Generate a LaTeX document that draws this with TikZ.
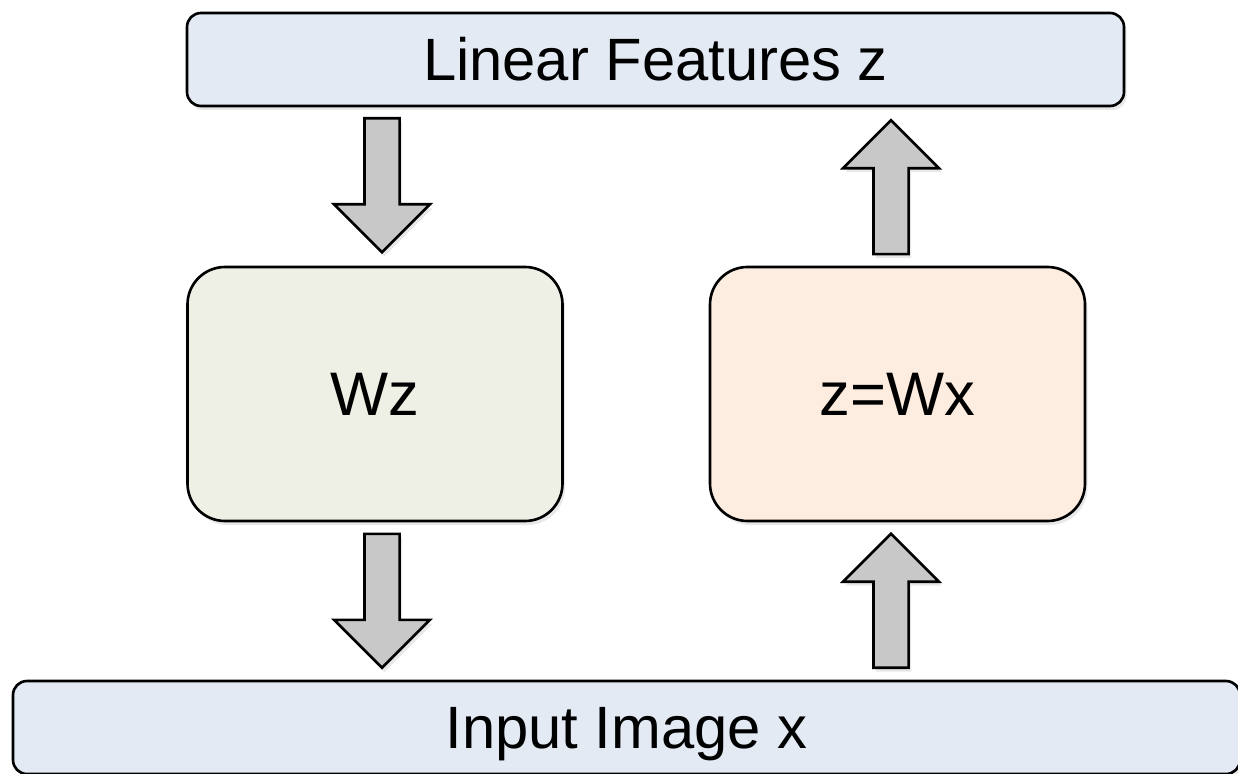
\documentclass[tikz,border=0pt]{standalone}
\usepackage{fontspec}
\setmainfont{Liberation Sans}
\usetikzlibrary{positioning,calc,shapes.arrows,shadows}
\definecolor{FeatBlue}{HTML}{E3EAF4}
\definecolor{DecOlive}{HTML}{EFF0E5}
\definecolor{EncPeach}{HTML}{FDEDE0}
\definecolor{ArrowGray}{HTML}{C8C8C8}

\begin{document}
\begin{tikzpicture}[every node/.style={align=center},
  softshadow/.style={drop shadow={opacity=0.18, shadow xshift=0.05cm, shadow yshift=-0.08cm}},
  layerbox/.style={draw=black, line width=1.5pt, rounded corners=0.28cm, fill=FeatBlue, minimum height=1.86cm, font=\fontsize{34}{40}\selectfont, text height=0.9cm, text depth=0.05cm, softshadow},
  mapbox/.style={draw=black, line width=1.5pt, rounded corners=0.75cm, minimum width=7.5cm, minimum height=5.08cm, font=\fontsize{35}{42}\selectfont, text height=0.92cm, text depth=0.05cm, softshadow},
  blockarrow/.style={single arrow, draw=black, fill=ArrowGray, line width=1.5pt, line join=miter, inner xsep=0pt, inner ysep=0.245cm, minimum width=1.92cm, minimum height=2.68cm, single arrow head extend=0.47cm, anchor=tip, softshadow}]
  \useasboundingbox (0,0) rectangle (24.76,15.46);
  \node[layerbox, minimum width=18.74cm] (linear) at (13.11,14.27) {Linear Features z};
  \node[layerbox, minimum width=24.54cm] (input) at (12.53,0.91) {Input Image x};
  \node[mapbox, fill=DecOlive] (wz) at (7.5,7.58) {Wz};
  \node[mapbox, fill=EncPeach] (wx) at (17.95,7.58) {z=Wx};
  % decoder side goes down, encoder side goes up
  \node[blockarrow, rotate=-90] (wzin) at ($(wz.north)+(0.14,0.23)$) {};
  \node[blockarrow, rotate=-90] (wzout) at ($(input.north -| wz)+(0.14,0.2)$) {};
  \node[blockarrow, rotate=90] (wxin) at ($(wx.south)+(-0.13,-0.19)$) {};
  \node[blockarrow, rotate=90] (wxout) at ($(linear.south -| wx)+(-0.13,-0.22)$) {};
\end{tikzpicture}
\end{document}
